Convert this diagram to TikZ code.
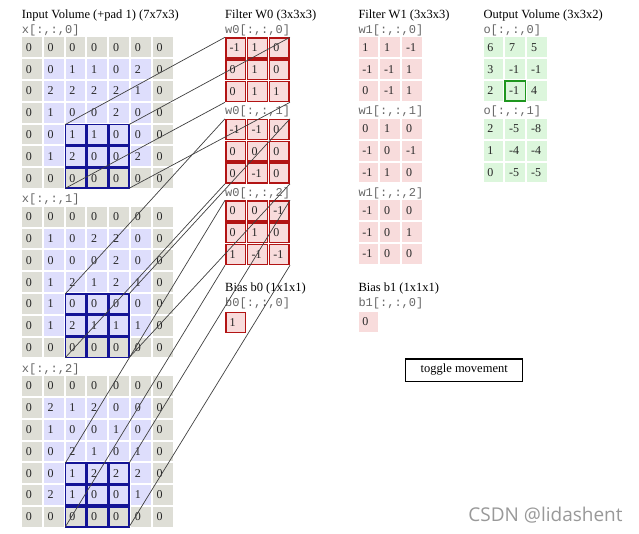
\documentclass[tikz,border=0pt]{standalone}
\usepackage{fontspec}
\setmainfont{Liberation Serif}
\setmonofont{Liberation Mono}
\newfontfamily\wmfont{Open Sans}
\definecolor{padgray}{RGB}{222,222,214}
\definecolor{inblue}{RGB}{222,222,252}
\definecolor{wred}{RGB}{248,220,220}
\definecolor{ogreen}{RGB}{220,246,220}
\definecolor{winblue}{RGB}{20,20,150}
\definecolor{wborder}{RGB}{178,20,20}
\definecolor{oborder}{RGB}{30,150,30}
\tikzset{
  cell/.style={anchor=north west, minimum height=19.8pt, text width=12pt,
    inner xsep=3.9pt, inner ysep=0pt, align=left,
    font=\fontsize{12}{12}\selectfont, text=black!85},
  wcell/.style={cell, fill=wred, draw=wborder, line width=1.6pt},
  w1cell/.style={cell, fill=wred},
  ocell/.style={cell, fill=ogreen},
  title/.style={anchor=west, inner sep=0pt, font=\fontsize{12.5}{14}\selectfont},
  slicelabel/.style={anchor=west, inner sep=0pt, text=black!60,
    font=\ttfamily\fontsize{12}{12}\selectfont},
  window/.style={draw=winblue, line width=1.6pt},
  link/.style={draw=black!75, line width=0.7pt},
}
\begin{document}
\begin{tikzpicture}[x=1pt,y=-1pt]
  \fill[white] (0,0) rectangle (639,534);
  \useasboundingbox (0,0) rectangle (639,534);

  % input volume, padded
  \node[title] (tin) at (21.7,15) {Input Volume (+pad 1) (7x7x3)};
  \foreach \slice [count=\k from 0] in {
      {{0,0,0,0,0,0,0},{0,0,1,1,0,2,0},{0,2,2,2,2,1,0},{0,1,0,0,2,0,0},{0,0,1,1,0,0,0},{0,1,2,0,0,2,0},{0,0,0,0,0,0,0}},
      {{0,0,0,0,0,0,0},{0,1,0,2,2,0,0},{0,0,0,0,2,0,0},{0,1,2,1,2,1,0},{0,1,0,0,0,0,0},{0,1,2,1,1,1,0},{0,0,0,0,0,0,0}},
      {{0,0,0,0,0,0,0},{0,2,1,2,0,0,0},{0,1,0,0,1,0,0},{0,0,2,1,0,1,0},{0,0,1,2,2,2,0},{0,2,1,0,0,1,0},{0,0,0,0,0,0,0}}} {
    \node[slicelabel] (lx\k) at (21.7,{30.3+169.3*\k}) {x[:,:,\k]};
    \foreach \row [count=\i from 0] in \slice {
      \foreach \v [count=\j from 0] in \row {
        \pgfmathtruncatemacro\edgecell{(\i==0)||(\i==6)||(\j==0)||(\j==6)}
        \ifnum\edgecell=1 \def\cfill{padgray}\else\def\cfill{inblue}\fi
        \node[cell, fill=\cfill] (x\k-\i-\j) at ({21.7+21.8*\j},{37.3+169.3*\k+21.8*\i}) {\v};
      }
    }
  }

  % filter W0
  \node[title] (tw0) at (225,15) {Filter W0 (3x3x3)};
  \foreach \slice [count=\k from 0] in {
      {{-1,1,0},{0,1,0},{0,1,1}},
      {{-1,-1,0},{0,0,0},{0,-1,0}},
      {{0,0,-1},{0,1,0},{1,-1,-1}}} {
    \node[slicelabel] (lw0\k) at (225,{30.3+81.5*\k}) {w0[:,:,\k]};
    \foreach \row [count=\i from 0] in \slice {
      \foreach \v [count=\j from 0] in \row {
        \node[wcell] (w0-\k-\i-\j) at ({225+21.8*\j},{37.3+81.5*\k+21.8*\i}) {\v};
      }
    }
  }

  % filter W1
  \node[title] (tw1) at (358.3,15) {Filter W1 (3x3x3)};
  \foreach \slice [count=\k from 0] in {
      {{1,1,-1},{-1,-1,1},{0,-1,1}},
      {{0,1,0},{-1,0,-1},{-1,1,0}},
      {{-1,0,0},{-1,0,1},{-1,0,0}}} {
    \node[slicelabel] (lw1\k) at (358.3,{30.3+81.5*\k}) {w1[:,:,\k]};
    \foreach \row [count=\i from 0] in \slice {
      \foreach \v [count=\j from 0] in \row {
        \node[w1cell] (w1-\k-\i-\j) at ({358.3+21.8*\j},{37.3+81.5*\k+21.8*\i}) {\v};
      }
    }
  }

  % output volume
  \node[title] (tout) at (483.3,15) {Output Volume (3x3x2)};
  \foreach \slice [count=\k from 0] in {
      {{6,7,5},{3,-1,-1},{2,-1,4}},
      {{2,-5,-8},{1,-4,-4},{0,-5,-5}}} {
    \node[slicelabel] (lo\k) at (483.3,{30.3+81.5*\k}) {o[:,:,\k]};
    \foreach \row [count=\i from 0] in \slice {
      \foreach \v [count=\j from 0] in \row {
        \node[ocell] (o\k-\i-\j) at ({483.3+21.8*\j},{37.3+81.5*\k+21.8*\i}) {\v};
      }
    }
  }
  \draw[draw=oborder, line width=1.6pt] (o0-2-1.north west) rectangle (o0-2-1.south east);

  % biases
  \node[title] (tb0) at (225,288) {Bias b0 (1x1x1)};
  \node[slicelabel] (lb0) at (225,303) {b0[:,:,0]};
  \node[wcell] (b0) at (225,311.7) {1};
  \node[title] (tb1) at (358.3,288) {Bias b1 (1x1x1)};
  \node[slicelabel] (lb1) at (358.3,303) {b1[:,:,0]};
  \node[w1cell] (b1) at (358.3,311.7) {0};

  \node[draw, line width=1.5pt, minimum width=117pt, minimum height=22.5pt,
    font=\fontsize{12.5}{14}\selectfont] (toggle) at (464.2,370) {toggle movement};

  % receptive field and links to W0
  \foreach \k in {0,1,2} {
    \foreach \i in {4,5,6} {
      \foreach \j in {2,3,4} {
        \draw[window] (x\k-\i-\j.north west) rectangle (x\k-\i-\j.south east);
      }
    }
    \draw[link] (x\k-4-2.north west) -- (w0-\k-0-0.north west);
    \draw[link] (x\k-4-4.north east) -- (w0-\k-0-2.north east);
    \draw[link] (x\k-6-2.south west) -- (w0-\k-2-0.south west);
    \draw[link] (x\k-6-4.south east) -- (w0-\k-2-2.south east);
  }

  \node[text=black!40, font=\wmfont\fontsize{19}{22}\selectfont] (wmark) at (545.5,515) {CSDN @lidashent};
\end{tikzpicture}
\end{document}
